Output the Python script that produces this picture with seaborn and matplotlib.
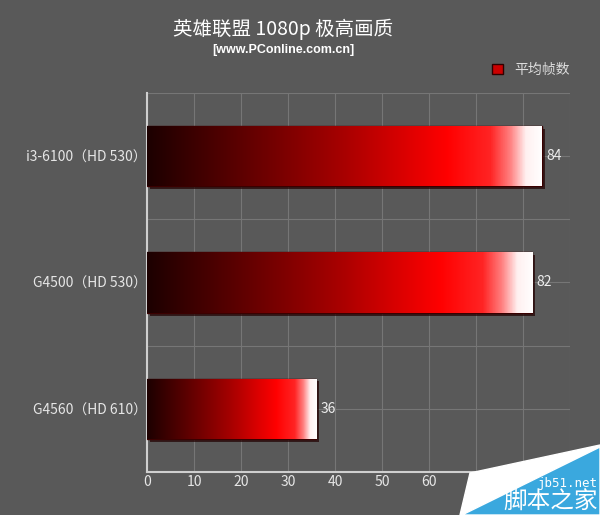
import numpy as np
import pandas as pd
import seaborn as sns
import matplotlib.pyplot as plt
from matplotlib.colors import LinearSegmentedColormap
from matplotlib.patches import Patch, Polygon
import matplotlib.patheffects as pe

# chart data
cpus = ['i3-6100（HD 530）', 'G4500（HD 530）', 'G4560（HD 610）']
fps = [84, 82, 36]
series_name = '平均帧数'
title = '英雄联盟 1080p 极高画质'
subtitle = '[www.PConline.com.cn]'
x_ticks = [0, 10, 20, 30, 40, 50, 60, 70, 80]

bg = '#595959'
sns.set_style('dark')
plt.rcParams['font.family'] = ['Noto Sans CJK SC', 'DejaVu Sans']

df = pd.DataFrame({'cpu': cpus, 'fps': fps})

fig = plt.figure(figsize=(6, 5.15), dpi=100, facecolor=bg)
ax = fig.add_axes([0.245, 0.0835, 0.705, 0.736])
ax.set_facecolor(bg)

sns.barplot(data=df, x='fps', y='cpu', orient='h', width=0.48,
            color='red', ax=ax, zorder=3)

# gradient fill for each bar: dark red -> red -> white
cmap = LinearSegmentedColormap.from_list('bar', [
    (0.0, '#1c0000'), (0.25, '#600000'), (0.5, '#a80000'),
    (0.76, '#ff0000'), (0.87, '#ff2424'), (0.92, '#ff8080'),
    (0.96, '#fff0f0'), (1.0, '#ffffff')], N=1024)
grad = np.tile(np.linspace(0, 1, 1024), (2, 1))
for p in ax.patches:
    x0, y0, w, h = p.get_x(), p.get_y(), p.get_width(), p.get_height()
    p.set_facecolor('#2a0000')
    p.set_edgecolor('#3a0000')
    p.set_linewidth(1)
    p.set_path_effects([pe.SimplePatchShadow(offset=(2, -2), shadow_rgbFace='#200000', alpha=0.7),
                        pe.Normal()])
    im = ax.imshow(grad, cmap=cmap, aspect='auto', extent=[x0, x0 + w, y0 + h, y0],
                   zorder=4, interpolation='nearest')
    im.set_clip_path(p)

ax.bar_label(ax.containers[0], padding=3, color='#eeeeee', fontsize=10, zorder=5)

ax.set_xlim(0, 90)
ax.set_ylim(2.5, -0.5)
ax.set_xticks(x_ticks)
ax.set_xticks([90], minor=True)
ax.set_yticks([-0.5, 0.5, 1.5, 2.5], minor=True)
ax.grid(True, which='both', color='#767676', linewidth=0.8, zorder=0)
ax.set_axisbelow(True)
ax.tick_params(axis='both', which='both', length=0, colors='#e6e6e6', labelsize=10)
ax.tick_params(axis='y', pad=0)
ax.tick_params(axis='x', pad=2)
ax.set_xlabel('')
ax.set_ylabel('')
for side in ['top', 'right']:
    ax.spines[side].set_visible(False)
for side in ['left', 'bottom']:
    ax.spines[side].set_visible(True)
    ax.spines[side].set_color('#cfcfcf')
    ax.spines[side].set_linewidth(1.5)

fig.text(0.472, 0.942, title, ha='center', va='center', color='white',
         fontsize=14, fontweight='medium')
fig.text(0.472, 0.902, subtitle, ha='center', va='center', color='white',
         fontsize=9, fontweight='bold', family='Liberation Sans')

fig.legend(handles=[Patch(facecolor='#cc0000', edgecolor='#300000')], labels=[series_name],
           loc='center right', bbox_to_anchor=(0.97, 1 - 70 / 515), frameon=False,
           handlelength=0.8, handleheight=0.8, handletextpad=0.8,
           labelcolor='#dddddd', fontsize=10)

# site watermark in the lower right corner
W, H = 600, 515
fig.patches.append(Polygon([(470 / W, 1 - 473 / H), (1, 1 - 445 / H), (1, 0), (460 / W, 0)],
                           closed=True, transform=fig.transFigure, facecolor='white', zorder=10))
fig.patches.append(Polygon([(462 / W, 0), (1, 1 - 447 / H), (1, 0)], closed=True,
                           transform=fig.transFigure, facecolor='#3aa8de', zorder=11))
fig.text(0.997, 1 - 483 / H, 'jb51.net', ha='right', va='center', color='white',
         fontsize=9, family='DejaVu Sans Mono', zorder=12)
fig.text(0.997, 1 - 501 / H, '脚本之家', ha='right', va='center', color='white',
         fontsize=17, zorder=12)

fig.savefig('out.png', dpi=100, facecolor=bg)
